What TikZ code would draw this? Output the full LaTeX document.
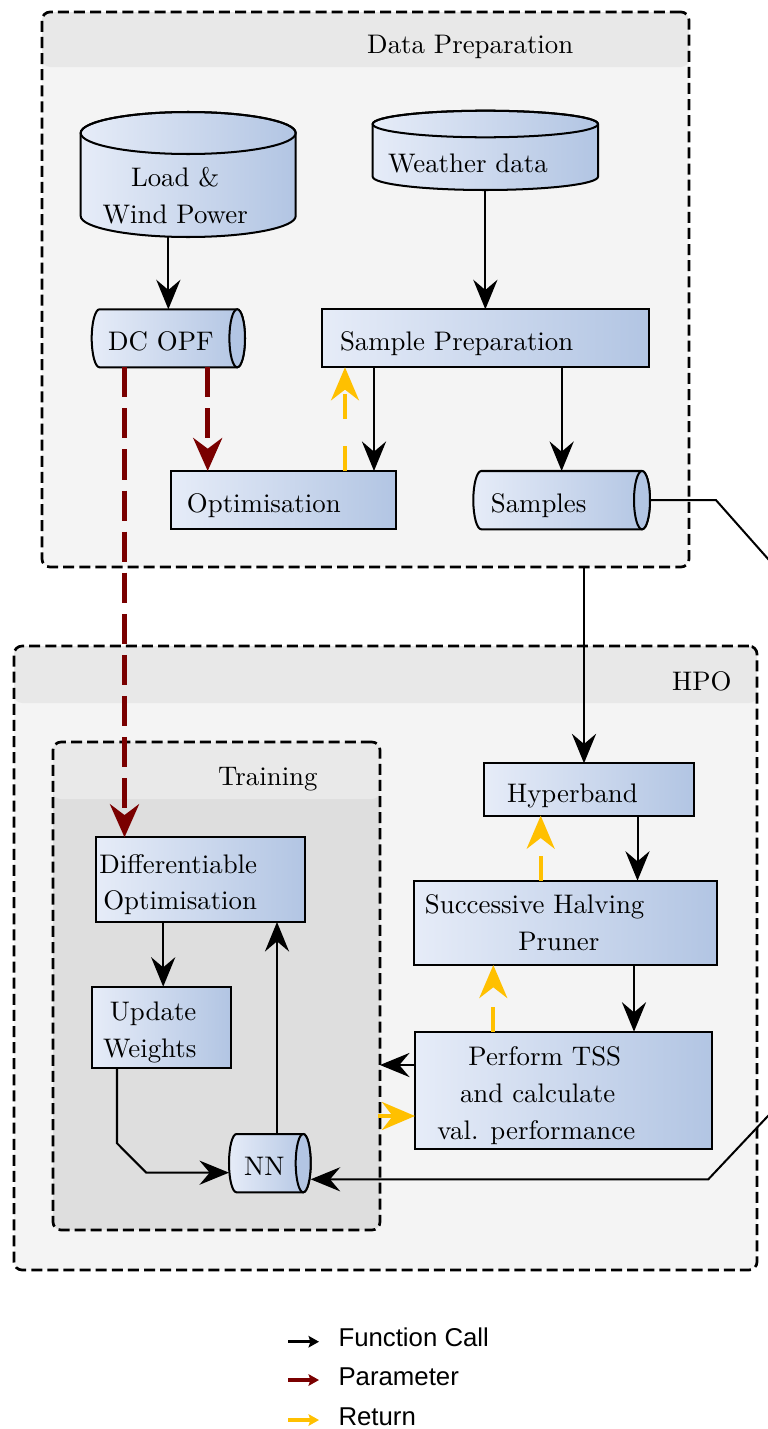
\documentclass[tikz,border=0pt]{standalone}
\usepackage{fontspec}
\newfontfamily\legfont{Liberation Sans}
\usetikzlibrary{arrows.meta,calc}
\newdimen\pxd \pxd=0.3725pt
\definecolor{cL}{RGB}{230,236,248}
\definecolor{cR}{RGB}{178,197,227}
\definecolor{bodyc}{RGB}{244,244,244}
\definecolor{hdrc}{RGB}{232,232,232}
\definecolor{trbody}{RGB}{222,222,222}
\definecolor{trhdr}{RGB}{233,233,233}
\definecolor{darkred}{RGB}{122,0,0}
\definecolor{gold}{RGB}{255,192,0}
\pgfdeclarelayer{cont}
\pgfdeclarelayer{shapes}
\pgfsetlayers{cont,shapes,main}
\newcommand\tstr{\rule{0pt}{10.7pt}}
\newcommand\vcyl[3]{%
  \begin{pgfonlayer}{shapes}
  \path[draw, line width=0.75pt, left color=cL, right color=cR]
    ($(#1.north west)+(0,-#3)$) -- ($(#1.south west)+(0,-#3)$)
    arc[start angle=180,end angle=0,x radius=#2,y radius=#3]
    -- ($(#1.north east)+(0,-#3)$)
    arc[start angle=0,end angle=-180,x radius=#2,y radius=#3] -- cycle;
  \draw[line width=0.75pt] ($(#1.north)+(0,-#3)$) ellipse[x radius=#2,y radius=#3];
  \end{pgfonlayer}}
\newcommand\hcyl[3]{%
  \begin{pgfonlayer}{shapes}
  \path[draw, line width=0.75pt, left color=cL, right color=cR]
    ($(#1.north west)+(#2,0)$) -- ($(#1.north east)+(-#2,0)$)
    arc[start angle=-90,end angle=90,x radius=#2,y radius=#3]
    -- ($(#1.south west)+(#2,0)$)
    arc[start angle=90,end angle=270,x radius=#2,y radius=#3] -- cycle;
  \draw[line width=0.75pt, fill=cR] ($(#1.east)+(-#2,0)$) ellipse[x radius=#2,y radius=#3];
  \end{pgfonlayer}}
\tikzset{
  box/.style={draw, line width=0.75pt, left color=cL, right color=cR, inner sep=0pt, outer sep=0pt,
    font=\fontsize{10}{13.7}\selectfont},
  cylnode/.style={inner sep=0pt, outer sep=0pt, font=\fontsize{10}{13.7}\selectfont},
  onel/.style={text height=9.4pt, text depth=0pt},
  container/.style n args={3}{draw, line width=1pt, dash pattern=on 4.1pt off 1.9pt,
    rounded corners=3pt, fill=#1, inner sep=0pt, outer sep=0pt,
    path picture={\fill[#2] (path picture bounding box.north west) rectangle
      ([yshift=-#3]path picture bounding box.north east);}},
  title/.style={anchor=base west, inner sep=0pt, font=\fontsize{10}{12}\selectfont},
  fc/.style={draw=black, line width=0.75pt, -{Stealth[length=11pt,width=9pt,inset=3.8pt]}},
  par/.style={draw=darkred, line width=1.75pt, dash pattern=on 11.2pt off 4.1pt,
    -{Stealth[length=12.3pt,width=10.8pt,inset=4pt]}},
  ret/.style={draw=gold, line width=1.5pt, dash pattern=on 9.3pt off 10pt,
    -{Stealth[length=12.3pt,width=10.4pt,inset=4pt]}},
  legtxt/.style={anchor=base west, inner sep=0pt, font=\legfont\fontsize{9.6}{11}\selectfont},
  legar/.style={line width=1.3pt, -{Stealth[length=3.9pt,width=4.3pt,inset=0.7pt]}}
}
\begin{document}
\begin{tikzpicture}[x=0.3725pt, y=-0.3725pt]
\useasboundingbox (0,0) rectangle (767,1429);
% containers
\begin{pgfonlayer}{cont}
\node[container={bodyc}{hdrc}{55*\pxd}, minimum width=647*\pxd, minimum height=555*\pxd] (dp) at (365.5,289.5) {};
\node[container={bodyc}{hdrc}{57*\pxd}, minimum width=743*\pxd, minimum height=624*\pxd] (hpo) at (385.5,958) {};
\node[container={trbody}{trhdr}{57*\pxd}, minimum width=327*\pxd, minimum height=488*\pxd] (train) at (216.5,986) {};
\end{pgfonlayer}
\node[title] (dpt) at (366.7,53.3) {Data Preparation};
\node[title] (hpot) at (671.7,690) {HPO};
\node[title] (trt) at (217.7,785) {Training};
% nodes
\node[cylnode, align=center, minimum width=215*\pxd, minimum height=83*\pxd] (load) at (188.2,195.5)
  {Load \&\hspace*{26\pxd}\\Wind Power\hspace*{26\pxd}};
\vcyl{load}{107.5}{21}
\node[cylnode, minimum width=225.3*\pxd, minimum height=52.7*\pxd] (weather) at (485.35,163.65)
  {Weather data\hspace*{35\pxd}};
\vcyl{weather}{112.65}{13.3}
\node[cylnode, onel, minimum width=153.3*\pxd, minimum height=58*\pxd] (dcopf) at (168.35,338.3)
  {DC OPF\hspace*{15\pxd}};
\hcyl{dcopf}{7.8}{29}
\node[box, onel, minimum width=327.3*\pxd, minimum height=58*\pxd] (sprep) at (485.65,338.3)
  {Sample Preparation\hspace*{58\pxd}};
\node[box, onel, minimum width=225.3*\pxd, minimum height=58*\pxd] (optim) at (283.35,500)
  {Optimisation\hspace*{39\pxd}};
\node[cylnode, onel, minimum width=176.7*\pxd, minimum height=58.3*\pxd] (samples) at (561.65,500.15)
  {Samples\hspace*{46\pxd}};
\hcyl{samples}{8}{29.15}
\node[box, onel, minimum width=209.4*\pxd, minimum height=52.4*\pxd] (hyper) at (589,789.5)
  {Hyperband\hspace*{33\pxd}};
\node[box, align=left, minimum width=303.3*\pxd, minimum height=84.3*\pxd] (shp) at (565.65,922.85)
  {Successive Halving\hspace*{62\pxd}\\\hspace*{93.4\pxd}Pruner};
\node[box, align=left, minimum width=297.3*\pxd, minimum height=117.6*\pxd] (perf) at (563.65,1090.5)
  {\tstr\hspace*{31\pxd}Perform TSS\\\hspace*{22.6\pxd}and calculate\\val. performance\hspace*{54.6\pxd}};
\node[box, align=right, minimum width=209.3*\pxd, minimum height=84.7*\pxd] (diffopt) at (200.65,879.65)
  {\tstr Differentiable\hspace*{45\pxd}\\Optimisation\hspace*{45\pxd}};
\node[box, align=right, minimum width=139*\pxd, minimum height=81.6*\pxd] (update) at (161.2,1027.5)
  {\tstr Update\hspace*{23\pxd}\\Weights\hspace*{23\pxd}};
\node[cylnode, onel, minimum width=81.7*\pxd, minimum height=58.3*\pxd] (nn) at (269.85,1163.15)
  {NN\hspace*{11\pxd}};
\hcyl{nn}{7.5}{29.15}
% connectors
\draw[fc] (load.south -| dcopf.north) -- (dcopf.north);
\draw[fc] (weather.south) -- (weather.south |- sprep.north);
\draw[fc] ($(optim.north east |- sprep.south)+(-22,0)$) -- ($(optim.north east)+(-22,0)$);
\draw[ret] ($(optim.north east)+(-51,0)$) -- ($(optim.north east |- sprep.south)+(-51,0)$);
\draw[fc] (samples.north |- sprep.south) -- (samples.north);
\draw[par] ($(optim.north west |- dcopf.south)+(37,0)$) -- ($(optim.north west)+(37,0)$);
\draw[par] ($(diffopt.north west |- dcopf.south)+(28.5,0)$) -- ($(diffopt.north west)+(28.5,0)$);
\draw[fc] ($(hyper.north |- dp.south)+(-5,0)$) -- ($(hyper.north)+(-5,0)$);
\draw[fc] ($(hyper.south east)+(-56.2,0)$) -- ($(hyper.south east |- shp.north)+(-56.2,0)$);
\draw[ret] ($(hyper.south west |- shp.north)+(56.4,0)$) -- ($(hyper.south west)+(56.4,0)$);
\draw[fc] ($(shp.south east)+(-83.3,0)$) -- ($(shp.south east |- perf.north)+(-83.3,0)$);
\draw[ret] ($(perf.north west)+(78.3,0)$) -- ($(perf.north west |- shp.south)+(78.3,0)$);
\draw[fc] ($(perf.west)+(0,-25.5)$) -- ($(perf.west -| train.east)+(0,-25.5)$);
\draw[ret] ($(perf.west -| train.east)+(-2,25.5)$) -- ($(perf.west)+(0,25.5)$);
\draw[fc] ($(update.north |- diffopt.south)+(2,0)$) -- ($(update.north)+(2,0)$);
\draw[fc] ($(diffopt.south east |- nn.north)+(-28.3,0)$) -- ($(diffopt.south east)+(-28.3,0)$);
\draw[fc] ($(update.south west)+(25.3,0)$) -- ++(0,75) -- ++(29.3,29.4) -- ($(nn.west)+(0,9.5)$);
\coordinate (r1) at (800,595);
\coordinate (r2) at (800,1082);
\coordinate (r3) at (708.3,1179.3);
\draw[fc] (samples.east) -- ++(66,0) -- (r1) -- (r2) -- (r3) -- (r3 -| nn.east);
% legend
\node[legtxt] (lg1) at (338,1346.7) {Function Call};
\node[legtxt] (lg2) at (338,1385) {Parameter};
\node[legtxt] (lg3) at (338,1425) {Return};
\draw[legar, black] ($(lg1.base west)+(-50,-5)$) -- ($(lg1.base west)+(-19,-5)$);
\draw[legar, darkred] ($(lg2.base west)+(-50,-5)$) -- ($(lg2.base west)+(-19,-5)$);
\draw[legar, gold] ($(lg3.base west)+(-50,-5)$) -- ($(lg3.base west)+(-19,-5)$);
\end{tikzpicture}
\end{document}
